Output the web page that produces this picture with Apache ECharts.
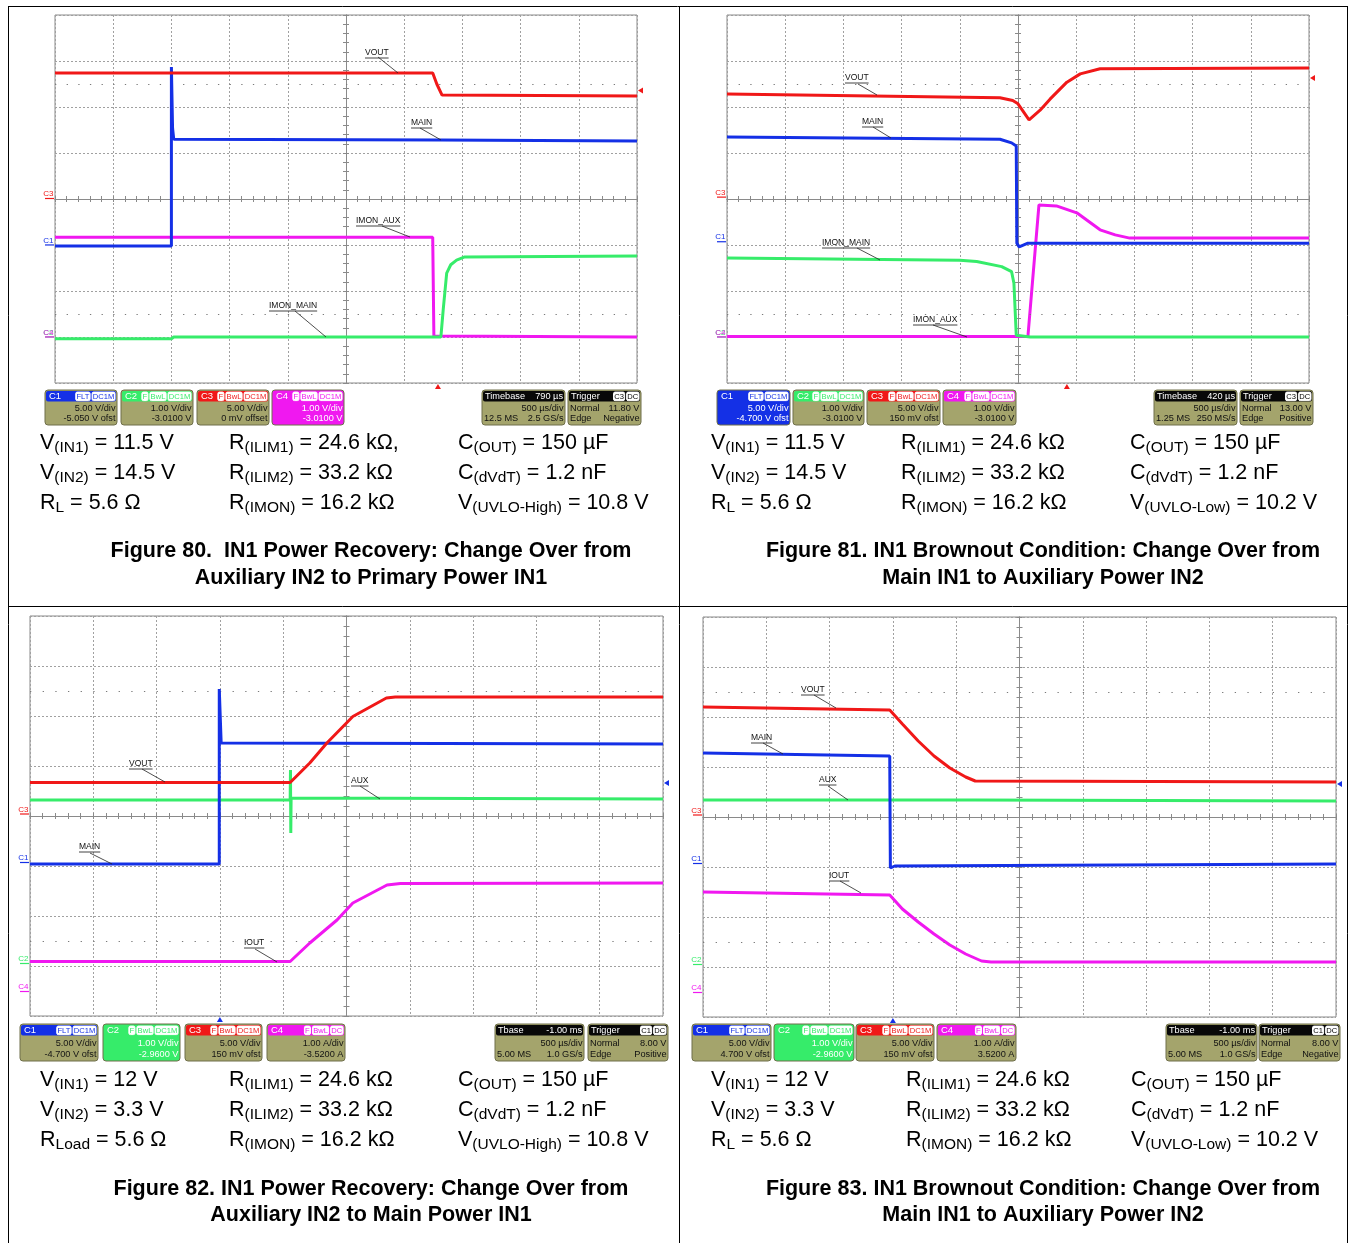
<!DOCTYPE html>
<html><head><meta charset="utf-8">
<script src="https://cdn.jsdelivr.net/npm/echarts/dist/echarts.min.js"></script>
<style>html,body{margin:0;padding:0;background:#fff}#c{width:1349px;height:1243px}</style>
</head><body><div id="c"></div>
<script>
// ================= DATA (traces in screen divisions: x -5..5, y -4..4) =================
// Figure 80
const f80Vout     = [[-5,2.74],[1.49,2.74],[1.56,2.50],[1.65,2.26],[5,2.24]];
const f80Main     = [[-5,-1.02],[-3.0,-1.02],[-3.0,2.87],[-2.98,1.54],[-2.96,1.30],[1.62,1.28],[5,1.26]];
const f80ImonAux  = [[-5,-0.83],[1.49,-0.83],[1.51,-2.98],[5,-3.0]];
const f80ImonMain = [[-5,-3.04],[-3.0,-3.04],[-2.96,-3.0],[1.63,-3.0],[1.67,-2.41],[1.73,-1.61],[1.80,-1.43],[1.90,-1.33],[2.04,-1.26],[5,-1.24]];
// Figure 81
const f81Vout     = [[-5,2.28],[-0.31,2.20],[-0.09,2.14],[0.0,2.07],[0.19,1.72],[0.38,1.93],[0.55,2.17],[0.84,2.54],[1.07,2.72],[1.41,2.83],[5,2.85]];
const f81Main     = [[-5,1.35],[-0.31,1.30],[-0.11,1.22],[-0.03,1.15],[-0.02,-0.96],[0.02,-1.04],[0.17,-0.96],[5,-0.96]];
const f81ImonMain = [[-5,-1.28],[-1.0,-1.33],[-0.71,-1.36],[-0.28,-1.47],[-0.11,-1.58],[-0.07,-1.83],[-0.03,-2.96],[0.21,-3.0],[5,-3.0]];
const f81ImonAux  = [[-5,-2.99],[0.17,-2.99],[0.36,-0.13],[0.66,-0.15],[1.01,-0.30],[1.41,-0.67],[1.67,-0.78],[1.92,-0.85],[5,-0.85]];
// Figure 82
const f82Vout = [[-5,0.67],[-0.89,0.67],[-0.58,1.06],[-0.31,1.46],[0.10,1.99],[0.63,2.36],[0.77,2.38],[5,2.38]];
const f82Main = [[-5,-0.96],[-2.01,-0.96],[-2.01,2.54],[-1.98,1.46],[5,1.44]];
const f82Aux  = [[-5,0.32],[-0.89,0.32],[-0.885,0.92],[-0.88,-0.34],[-0.875,0.36],[5,0.34]];
const f82Iout = [[-5,-2.91],[-0.89,-2.91],[-0.58,-2.54],[-0.15,-2.08],[0.10,-1.74],[0.64,-1.38],[0.85,-1.35],[5,-1.34]];
// Figure 83
const f83Vout = [[-5,2.20],[-2.05,2.14],[-1.85,1.86],[-1.60,1.52],[-1.35,1.22],[-1.10,0.98],[-0.85,0.80],[-0.70,0.72],[5,0.70]];
const f83Main = [[-5,1.28],[-2.05,1.22],[-2.04,-1.02],[-1.97,-0.98],[5,-0.94]];
const f83Aux  = [[-5,0.34],[-0.70,0.34],[5,0.32]];
const f83Iout = [[-5,-1.50],[-2.05,-1.56],[-1.85,-1.84],[-1.60,-2.10],[-1.35,-2.34],[-1.10,-2.56],[-0.85,-2.74],[-0.60,-2.88],[-0.45,-2.90],[5,-2.90]];

// Channel ground markers (div) C1..C4, trigger [delay div, level div]
const f80Ground = [-1.01,-3.01,0,-3.01];  const f80Trig = [1.58, 2.36];
const f81Ground = [-0.94,-3.01,0.03,-3.01]; const f81Trig = [0.84, 2.63];
const f82Ground = [-0.94,-2.96,0.03,-3.52]; const f82Trig = [-2.0, 0.66];
const f83Ground = [-0.94,-2.96,0.03,-3.52]; const f83Trig = [-2.0, 0.66];

// Scope info boxes
const f80Chan = [['C1','FLT|DC1M','5.00 V/div','-5.050 V ofst'],['C2','F|BwL|DC1M','1.00 V/div','-3.0100 V'],['C3','F|BwL|DC1M','5.00 V/div','0 mV offset'],['C4','F|BwL|DC1M','1.00 V/div','-3.0100 V']];
const f81Chan = [['C1','FLT|DC1M','5.00 V/div','-4.700 V ofst'],['C2','F|BwL|DC1M','1.00 V/div','-3.0100 V'],['C3','F|BwL|DC1M','5.00 V/div','150 mV ofst'],['C4','F|BwL|DC1M','1.00 V/div','-3.0100 V']];
const f82Chan = [['C1','FLT|DC1M','5.00 V/div','-4.700 V ofst'],['C2','F|BwL|DC1M','1.00 V/div','-2.9600 V'],['C3','F|BwL|DC1M','5.00 V/div','150 mV ofst'],['C4','F|BwL|DC','1.00 A/div','-3.5200 A']];
const f83Chan = [['C1','FLT|DC1M','5.00 V/div','4.700 V ofst'],['C2','F|BwL|DC1M','1.00 V/div','-2.9600 V'],['C3','F|BwL|DC1M','5.00 V/div','150 mV ofst'],['C4','F|BwL|DC','1.00 A/div','3.5200 A']];
const f80Time = ['Timebase','790 µs','500 µs/div','12.5 MS','2.5 GS/s'];
const f81Time = ['Timebase','420 µs','500 µs/div','1.25 MS','250 MS/s'];
const f82Time = ['Tbase','-1.00 ms','500 µs/div','5.00 MS','1.0 GS/s'];
const f83Time = ['Tbase','-1.00 ms','500 µs/div','5.00 MS','1.0 GS/s'];
const f80TrigBox = ['C3','DC','Normal','11.80 V','Edge','Negative'];
const f81TrigBox = ['C3','DC','Normal','13.00 V','Edge','Positive'];
const f82TrigBox = ['C1','DC','Normal','8.00 V','Edge','Positive'];
const f83TrigBox = ['C1','DC','Normal','8.00 V','Edge','Negative'];

// Trace labels
const f80Labels = ['VOUT','MAIN','IMON_AUX','IMON_MAIN'];
const f81Labels = ['VOUT','MAIN','IMON_MAIN','IMON_AUX'];
const f82Labels = ['VOUT','MAIN','AUX','IOUT'];
const f83Labels = ['VOUT','MAIN','AUX','IOUT'];

// Conditions text [symbol, subscript, rest]
const f80Params = [[['V','(IN1)',' = 11.5 V'],['V','(IN2)',' = 14.5 V'],['R','L',' = 5.6 Ω']],
  [['R','(ILIM1)',' = 24.6 kΩ,'],['R','(ILIM2)',' = 33.2 kΩ'],['R','(IMON)',' = 16.2 kΩ']],
  [['C','(OUT)',' = 150 µF'],['C','(dVdT)',' = 1.2 nF'],['V','(UVLO-High)',' = 10.8 V']]];
const f81Params = [[['V','(IN1)',' = 11.5 V'],['V','(IN2)',' = 14.5 V'],['R','L',' = 5.6 Ω']],
  [['R','(ILIM1)',' = 24.6 kΩ'],['R','(ILIM2)',' = 33.2 kΩ'],['R','(IMON)',' = 16.2 kΩ']],
  [['C','(OUT)',' = 150 µF'],['C','(dVdT)',' = 1.2 nF'],['V','(UVLO-Low)',' = 10.2 V']]];
const f82Params = [[['V','(IN1)',' = 12 V'],['V','(IN2)',' = 3.3 V'],['R','Load',' = 5.6 Ω']],
  [['R','(ILIM1)',' = 24.6 kΩ'],['R','(ILIM2)',' = 33.2 kΩ'],['R','(IMON)',' = 16.2 kΩ']],
  [['C','(OUT)',' = 150 µF'],['C','(dVdT)',' = 1.2 nF'],['V','(UVLO-High)',' = 10.8 V']]];
const f83Params = [[['V','(IN1)',' = 12 V'],['V','(IN2)',' = 3.3 V'],['R','L',' = 5.6 Ω']],
  [['R','(ILIM1)',' = 24.6 kΩ'],['R','(ILIM2)',' = 33.2 kΩ'],['R','(IMON)',' = 16.2 kΩ']],
  [['C','(OUT)',' = 150 µF'],['C','(dVdT)',' = 1.2 nF'],['V','(UVLO-Low)',' = 10.2 V']]];
const f80Caption = ['Figure 80.  IN1 Power Recovery: Change Over from','Auxiliary IN2 to Primary Power IN1'];
const f81Caption = ['Figure 81. IN1 Brownout Condition: Change Over from','Main IN1 to Auxiliary Power IN2'];
const f82Caption = ['Figure 82. IN1 Power Recovery: Change Over from','Auxiliary IN2 to Main Power IN1'];
const f83Caption = ['Figure 83. IN1 Brownout Condition: Change Over from','Main IN1 to Auxiliary Power IN2'];

// ================= LAYOUT / STYLE =================
const FONT = "'Liberation Sans', Arial, Helvetica, sans-serif";
const OLIVE = '#a4a46c';
const COL = {C1:'#1430e6', C2:'#36ec6a', C3:'#f01818', C4:'#f018f0'};
const panels = [
  {left:55, top:15, w:582, h:368, traces:[[f80ImonAux,'C4'],[f80ImonMain,'C2'],[f80Main,'C1'],[f80Vout,'C3']],
   ground:f80Ground, trig:f80Trig, trigCh:'C3', chan:f80Chan, active:3, time:f80Time, trigBox:f80TrigBox,
   box:{y:390,h:35,ch:[[45,72],[121,72],[197,72],[272,72]],tb:[482,83],tr:[568,73]},
   labels:f80Labels, labPos:[[365,53,378,57,398,73],[411,123,420,128,441,140],[356,221,382,226,410,237],[269,306,295,311,326,337]],
   params:f80Params, colX:[40,229,458], rowY:[443,473,503], caption:f80Caption, capX:371, capY:[551,578]},
  {left:727, top:15, w:582, h:368, traces:[[f81ImonAux,'C4'],[f81ImonMain,'C2'],[f81Main,'C1'],[f81Vout,'C3']],
   ground:f81Ground, trig:f81Trig, trigCh:'C3', chan:f81Chan, active:0, time:f81Time, trigBox:f81TrigBox,
   box:{y:390,h:35,ch:[[717,73],[793,71],[867,73],[943,73]],tb:[1154,83],tr:[1240,73]},
   labels:f81Labels, labPos:[[845,78,858,84,877,95],[862,122,873,127,891,138],[822,243,857,248,880,260],[913,320,933,325,967,337]],
   params:f81Params, colX:[711,901,1130], rowY:[443,473,503], caption:f81Caption, capX:1043, capY:[551,578]},
  {left:30, top:616, w:633, h:400, traces:[[f82Iout,'C4'],[f82Aux,'C2'],[f82Main,'C1'],[f82Vout,'C3']],
   ground:f82Ground, trig:f82Trig, trigCh:'C1', chan:f82Chan, active:1, time:f82Time, trigBox:f82TrigBox,
   box:{y:1024,h:37,ch:[[20,78],[103,77],[185,77],[267,78]],tb:[495,89],tr:[588,80]},
   labels:f82Labels, labPos:[[129,764,142,769,165,782],[79,847,90,853,112,864],[351,781,360,786,380,799],[244,943,255,949,277,962]],
   params:f82Params, colX:[40,229,458], rowY:[1080,1110,1140], caption:f82Caption, capX:371, capY:[1189,1215]},
  {left:703, top:617, w:633, h:400, traces:[[f83Iout,'C4'],[f83Aux,'C2'],[f83Main,'C1'],[f83Vout,'C3']],
   ground:f83Ground, trig:f83Trig, trigCh:'C1', chan:f83Chan, active:1, time:f83Time, trigBox:f83TrigBox,
   box:{y:1024,h:37,ch:[[692,79],[774,80],[856,78],[937,79]],tb:[1166,91],tr:[1259,81]},
   labels:f83Labels, labPos:[[801,690,814,695,836,708],[751,738,763,743,783,754],[819,780,828,786,848,800],[829,876,840,881,861,893]],
   params:f83Params, colX:[711,906,1131], rowY:[1080,1110,1140], caption:f83Caption, capX:1043, capY:[1189,1215]}
];

// ================= CHART =================
const chart = echarts.init(document.getElementById('c'), null, {renderer:'canvas'});
const grids = [], xAxes = [], yAxes = [], series = [];
panels.forEach((P, i) => {
  grids.push({left:P.left, top:P.top, width:P.w, height:P.h, show:true, borderColor:'#8a8a8a', borderWidth:1, backgroundColor:'rgba(0,0,0,0)'});
  const base = {type:'value', gridIndex:i, axisLabel:{show:false},
    axisLine:{show:true, onZero:true, lineStyle:{color:'#8a8a8a', width:1}},
    axisTick:{show:true, length:3, lineStyle:{color:'#8a8a8a'}},
    minorTick:{show:true, splitNumber:5, length:3, lineStyle:{color:'#8a8a8a'}}};
  const split = {show:true, lineStyle:{color:'#a0a0a0', width:1, type:[2,2]}};
  xAxes.push(Object.assign({}, base, {position:'bottom', min:-5, max:5, interval:1, splitLine:split}));
  xAxes.push(Object.assign({}, base, {position:'top', min:-5, max:5, interval:1, splitLine:{show:false}}));
  yAxes.push(Object.assign({}, base, {position:'left', min:-4, max:4, interval:1, splitLine:split}));
  yAxes.push(Object.assign({}, base, {position:'right', min:-4, max:4, interval:1, splitLine:{show:false}}));
  const dotGap = P.w / 50;
  P.traces.forEach((t, k) => {
    const s = {type:'line', xAxisIndex:2*i, yAxisIndex:2*i, data:t[0], showSymbol:false, symbol:'none',
      lineStyle:{color:COL[t[1]], width:3}, itemStyle:{color:COL[t[1]]}, animation:false, silent:true, z:3+k};
    if (k === 0) {
      s.markLine = {silent:true, symbol:'none', animation:false, label:{show:false},
        lineStyle:{color:'#7a7a7a', width:1.2, type:[1.3, dotGap-1.3]},
        emphasis:{disabled:true}, data:[{yAxis:2.5},{yAxis:-2.5}]};
    }
    series.push(s);
  });
});
chart.setOption({animation:false, backgroundColor:'#ffffff', grid:grids, xAxis:xAxes, yAxis:yAxes, series:series});

// ================= DECORATION (graphic) =================
const g = [];
const mctx = document.createElement('canvas').getContext('2d');
function measure(str, size, weight) { mctx.font = (weight || 'normal') + ' ' + size + 'px ' + FONT; return mctx.measureText(str).width; }
function rect(x, y, w, h, fill, stroke, r, z) {
  g.push({type:'rect', silent:true, z:z || 10, shape:{x:x, y:y, width:w, height:h, r:r || 0},
    style:{fill:fill || 'none', stroke:stroke || 'none', lineWidth:1}});
}
function line(x1, y1, x2, y2, stroke, lw, z) {
  g.push({type:'line', silent:true, z:z || 10, shape:{x1:x1, y1:y1, x2:x2, y2:y2}, style:{stroke:stroke, lineWidth:lw || 1}});
}
function poly(pts, fill) { g.push({type:'polygon', silent:true, z:11, shape:{points:pts}, style:{fill:fill}}); }
function text(x, y, str, o) {
  o = o || {};
  const st = {x:x, y:y, text:str, fill:o.color || '#111', fontSize:o.size || 9, fontFamily:FONT, fontWeight:o.weight || 'normal',
    align:o.align || 'left', verticalAlign:'middle', textAlign:o.align || 'left', textVerticalAlign:'middle'};
  if (o.rich) { st.rich = o.rich; st.lineHeight = o.lh; }
  g.push({type:'text', silent:true, z:o.z || 12, style:st});
}
function tagRow(xRight, yTop, tags, txtColor, boxFill) {
  let xr = xRight;
  for (let k = tags.length - 1; k >= 0; k--) {
    const w = measure(tags[k], 7.6) + 2.4;
    const x = xr - w;
    rect(x + 0.5, yTop + 0.5, w - 1, 8.5, boxFill, '#ffffff', 1.5, 11);
    text(x + w / 2, yTop + 4.9, tags[k], {size:7.6, color:txtColor, align:'center'});
    xr = x - 1;
  }
}
function chanBox(x, y, w, h, def, active) {
  const col = COL[def[0]];
  rect(x, y, w, h, active ? col : OLIVE, '#6f6f4a', 3);
  rect(x + 1, y + 1, w - 2, 10.5, col, null, 2, 11);
  text(x + 4, y + 6.3, def[0], {size:9.5, color:'#ffffff'});
  tagRow(x + w - 1.5, y + 1.6, def[1].split('|'), col, '#ffffff');
  const tc = active ? '#ffffff' : '#141414';
  text(x + w - 1.5, y + h * 0.515, def[2], {size:9.2, color:tc, align:'right'});
  text(x + w - 1.5, y + h * 0.825, def[3], {size:9.2, color:tc, align:'right'});
}
function timeBox(x, y, w, h, d) {
  rect(x, y, w, h, OLIVE, '#6f6f4a', 3);
  rect(x + 1, y + 1, w - 2, 10.5, '#080808', null, 2, 11);
  text(x + 3, y + 6.3, d[0], {size:9.2, color:'#ffffff'});
  text(x + w - 2, y + 6.3, d[1], {size:9.2, color:'#ffffff', align:'right'});
  text(x + w - 1.5, y + h * 0.515, d[2], {size:9.2, align:'right'});
  text(x + 2, y + h * 0.825, d[3], {size:9.2});
  text(x + w - 1.5, y + h * 0.825, d[4], {size:9.2, align:'right'});
}
function trigBox(x, y, w, h, d) {
  rect(x, y, w, h, OLIVE, '#6f6f4a', 3);
  rect(x + 1, y + 1, w - 2, 10.5, '#080808', null, 2, 11);
  text(x + 3, y + 6.3, 'Trigger', {size:9.2, color:'#ffffff'});
  tagRow(x + w - 1.5, y + 1.6, [d[0], d[1]], '#000000', '#ffffff');
  text(x + 2, y + h * 0.515, d[2], {size:9.2});
  text(x + w - 1.5, y + h * 0.515, d[3], {size:9.2, align:'right'});
  text(x + 2, y + h * 0.825, d[4], {size:9.2});
  text(x + w - 1.5, y + h * 0.825, d[5], {size:9.2, align:'right'});
}

// outer frame
line(8, 6.5, 1347, 6.5, '#000', 1, 5);
line(8, 606.5, 1347, 606.5, '#000', 1, 5);
line(8.5, 6, 8.5, 1243, '#000', 1, 5);
line(679.5, 6, 679.5, 1243, '#000', 1, 5);
line(1347.5, 6, 1347.5, 1243, '#000', 1, 5);

const chNames = ['C1','C2','C3','C4'];
panels.forEach((P, i) => {
  const fnd = {xAxisIndex:2 * i, yAxisIndex:2 * i};
  // ground markers (draw C2 before C4 so C4 sits on top)
  [0, 2, 1, 3].forEach(c => {
    const py = chart.convertToPixel(fnd, [-5, P.ground[c]])[1];
    const col = COL[chNames[c]];
    text(P.left - 1.5, py - 5, chNames[c], {size:8, color:col, align:'right'});
    line(P.left - 10, py - 0.5, P.left - 1, py - 0.5, col, 1.2);
  });
  // trigger delay marker (bottom) and level marker (right)
  const tcol = COL[P.trigCh];
  const bx = chart.convertToPixel(fnd, [P.trig[0], -4])[0];
  const by = P.top + P.h;
  poly([[bx, by + 1], [bx - 3, by + 6], [bx + 3, by + 6]], tcol);
  const ly = chart.convertToPixel(fnd, [5, P.trig[1]])[1];
  const rx = P.left + P.w;
  poly([[rx + 1, ly], [rx + 6, ly - 3], [rx + 6, ly + 3]], tcol);
  // trace labels
  P.labels.forEach((lab, k) => {
    const L = P.labPos[k];
    const w = measure(lab, 8.5);
    text(L[0], L[1], lab, {size:8.5, color:'#111'});
    line(L[0], L[1] + 5, L[0] + w, L[1] + 5, '#111', 0.8);
    line(L[2], L[3], L[4], L[5], '#222', 0.8);
  });
  // info boxes
  const B = P.box;
  P.chan.forEach((d, c) => chanBox(B.ch[c][0], B.y, B.ch[c][1], B.h, d, c === P.active));
  timeBox(B.tb[0], B.y, B.tb[1], B.h, P.time);
  trigBox(B.tr[0], B.y, B.tr[1], B.h, P.trigBox);
  // conditions
  P.params.forEach((col, ci) => col.forEach((p, ri) => {
    text(P.colX[ci], P.rowY[ri], p[0] + '{s|' + p[1] + '}' + p[2], {size:21.5, color:'#000', lh:26,
      rich:{s:{fontSize:15.5, fontFamily:FONT, fill:'#000', lineHeight:12, verticalAlign:'bottom'}}});
  }));
  // caption
  P.caption.forEach((c, k) => text(P.capX, P.capY[k], c, {size:21.5, weight:'bold', color:'#000', align:'center'}));
});
chart.setOption({graphic:{elements:g}});
</script></body></html>
